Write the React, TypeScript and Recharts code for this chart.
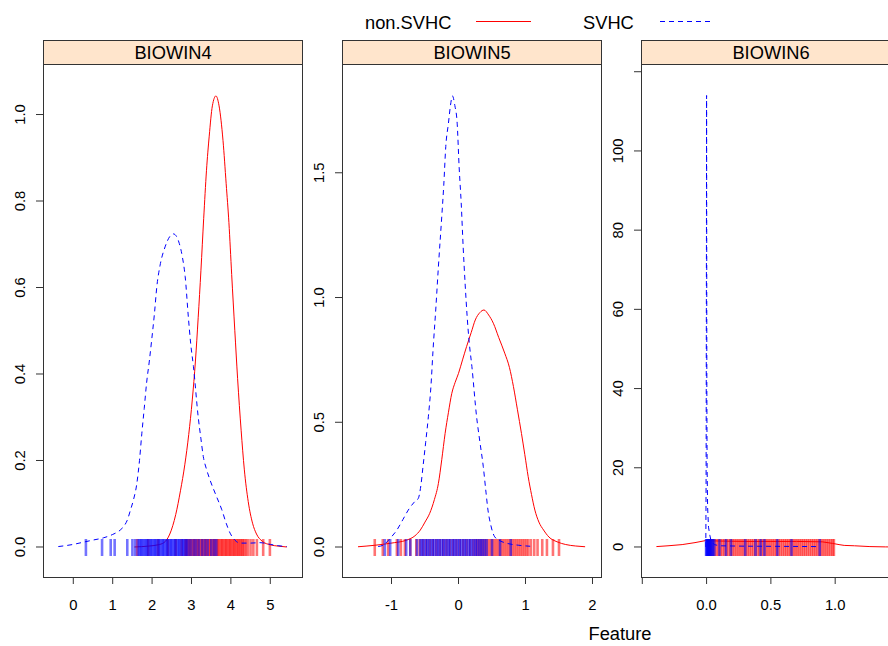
import React from 'react';
import { ComposedChart, Line, Scatter, XAxis, YAxis } from 'recharts';

const FONT = '"Liberation Sans", Arial, Helvetica, sans-serif';
const RED = '#ff0000';
const BLUE = '#0000ff';
const INK = '#333333';

type Pt = [number, number];

// ---------- BIOWIN4 ----------
const b4NonSvhc: Pt[] = [
  [1.55, 0], [1.9, 0.002], [2.15, 0.005], [2.3, 0.01], [2.45, 0.03], [2.6, 0.075],
  [2.72, 0.13], [2.83, 0.19], [2.93, 0.26], [3.02, 0.34], [3.1, 0.43], [3.17, 0.53],
  [3.24, 0.64], [3.31, 0.76], [3.38, 0.87], [3.45, 0.95], [3.53, 1.02], [3.62, 1.043],
  [3.7, 1.02], [3.8, 0.94], [3.88, 0.84], [3.95, 0.75], [4.02, 0.63], [4.1, 0.5],
  [4.17, 0.39], [4.26, 0.27], [4.34, 0.18], [4.44, 0.105], [4.55, 0.055], [4.65, 0.03],
  [4.8, 0.013], [5.0, 0.005], [5.2, 0.002], [5.42, 0],
];
const b4Svhc: Pt[] = [
  [-0.38, 0.001], [0.0, 0.006], [0.25, 0.011], [0.5, 0.016], [0.76, 0.021], [1.0, 0.029],
  [1.19, 0.039], [1.3, 0.05], [1.37, 0.062], [1.45, 0.085], [1.53, 0.11], [1.61, 0.145],
  [1.68, 0.2], [1.74, 0.263], [1.8, 0.32], [1.86, 0.379], [1.93, 0.43], [1.99, 0.479],
  [2.06, 0.54], [2.12, 0.602], [2.2, 0.65], [2.33, 0.694], [2.45, 0.718], [2.54, 0.724],
  [2.62, 0.718], [2.69, 0.702], [2.77, 0.67], [2.84, 0.625], [2.92, 0.532], [2.98, 0.47],
  [3.05, 0.417], [3.17, 0.301], [3.24, 0.25], [3.3, 0.209], [3.38, 0.18], [3.47, 0.155],
  [3.62, 0.12], [3.77, 0.086], [3.88, 0.055], [3.98, 0.032], [4.1, 0.016], [4.23, 0.009],
  [4.5, 0.009], [4.74, 0.01], [5.0, 0.006], [5.2, 0.003], [5.42, 0.001],
];
const b4RugNonSvhc = [
  1.62, 1.9, 2.15, 2.4, 2.6, 2.75, 2.84, 2.87, 2.9, 2.94, 2.97, 3.0, 3.04, 3.07, 3.1, 3.14,
  3.17, 3.2, 3.24, 3.27, 3.3, 3.34, 3.37, 3.4, 3.44, 3.47, 3.5, 3.54, 3.57, 3.6, 3.64, 3.67,
  3.7, 3.74, 3.77, 3.8, 3.84, 3.87, 3.9, 3.94, 3.97, 4.0, 4.04, 4.07, 4.1, 4.14, 4.17, 4.2,
  4.24, 4.27, 4.3, 4.34, 4.38, 4.43, 4.5, 4.57, 4.66, 4.82, 4.99,
];
const b4RugSvhc = [
  0.32, 0.73, 0.95, 1.05, 1.37, 1.5, 1.57, 1.64, 1.68, 1.71, 1.74, 1.78, 1.81, 1.85, 1.88,
  1.91, 1.95, 1.98, 2.01, 2.05, 2.08, 2.11, 2.15, 2.18, 2.21, 2.25, 2.28, 2.31, 2.35, 2.38,
  2.41, 2.45, 2.48, 2.51, 2.55, 2.58, 2.61, 2.65, 2.68, 2.71, 2.75, 2.78, 2.81, 2.85, 2.88,
  2.93, 2.99, 3.06, 3.12, 3.19, 3.27, 3.34, 3.41, 3.5, 3.57, 3.63,
];

// ---------- BIOWIN5 ----------
const b5NonSvhc: Pt[] = [
  [-1.5, 0.001], [-1.02, 0.015], [-0.77, 0.028], [-0.65, 0.045], [-0.57, 0.068], [-0.5, 0.1],
  [-0.43, 0.135], [-0.36, 0.19], [-0.3, 0.255], [-0.25, 0.35], [-0.2, 0.455], [-0.15, 0.54],
  [-0.1, 0.616], [-0.05, 0.66], [0.0, 0.696], [0.06, 0.75], [0.12, 0.803], [0.19, 0.86],
  [0.25, 0.91], [0.32, 0.94], [0.38, 0.95], [0.45, 0.93], [0.52, 0.897], [0.6, 0.84],
  [0.69, 0.777], [0.76, 0.72], [0.82, 0.643], [0.88, 0.55], [0.94, 0.455], [0.99, 0.37],
  [1.04, 0.282], [1.09, 0.21], [1.14, 0.148], [1.2, 0.1], [1.27, 0.068], [1.35, 0.04],
  [1.47, 0.021], [1.6, 0.01], [1.75, 0.004], [1.89, 0.001],
];
const b5Svhc: Pt[] = [
  [-1.2, 0.002], [-1.12, 0.008], [-1.02, 0.035], [-0.92, 0.068], [-0.83, 0.11], [-0.75, 0.148],
  [-0.66, 0.18], [-0.6, 0.195], [-0.56, 0.25], [-0.53, 0.322], [-0.49, 0.42], [-0.45, 0.522],
  [-0.41, 0.65], [-0.38, 0.79], [-0.34, 0.95], [-0.3, 1.124], [-0.25, 1.324], [-0.22, 1.45],
  [-0.19, 1.605], [-0.15, 1.699], [-0.12, 1.77], [-0.09, 1.808], [-0.055, 1.77], [-0.02, 1.699],
  [0.01, 1.52], [0.04, 1.38], [0.07, 1.2], [0.1, 1.05], [0.13, 0.92], [0.16, 0.82],
  [0.2, 0.723], [0.27, 0.522], [0.32, 0.42], [0.37, 0.322], [0.41, 0.22], [0.44, 0.148],
  [0.48, 0.09], [0.54, 0.041], [0.62, 0.025], [0.72, 0.015], [0.9, 0.007], [1.07, 0.003],
];
const b5RugNonSvhc = [
  -1.25, -1.13, -1.05, -0.92, -0.86, -0.8, -0.72, -0.63, -0.58, -0.53, -0.48, -0.43, -0.38,
  -0.33, -0.28, -0.23, -0.18, -0.13, -0.08, -0.03, 0.02, 0.07, 0.12, 0.17, 0.22, 0.26, 0.29,
  0.32, 0.35, 0.38, 0.41, 0.44, 0.47, 0.5, 0.53, 0.56, 0.59, 0.62, 0.65, 0.68, 0.71, 0.74,
  0.77, 0.8, 0.83, 0.86, 0.89, 0.92, 0.95, 0.98, 1.01, 1.04, 1.08, 1.13, 1.18, 1.25, 1.32,
  1.41, 1.5,
];
const b5RugSvhc = [
  -1.1, -1.02, -0.9, -0.78, -0.72, -0.62, -0.57, -0.545, -0.52, -0.49, -0.465, -0.44, -0.41,
  -0.385, -0.36, -0.33, -0.305, -0.28, -0.25, -0.225, -0.2, -0.17, -0.145, -0.12, -0.09,
  -0.065, -0.04, -0.01, 0.015, 0.04, 0.07, 0.095, 0.12, 0.15, 0.175, 0.2, 0.23, 0.255, 0.28,
  0.31, 0.335, 0.36, 0.39, 0.42, 0.5, 0.62, 0.78,
];

// ---------- BIOWIN6 ----------
const b6NonSvhc: Pt[] = [
  [-0.39, 0.1], [-0.3, 0.3], [-0.19, 0.6], [-0.09, 1.1], [-0.01, 1.6], [0.1, 1.5],
  [0.3, 1.4], [0.5, 1.4], [0.7, 1.4], [0.9, 1.3], [0.98, 0.9], [1.03, 0.6], [1.07, 0.4],
  [1.15, 0.3], [1.27, 0.1], [1.39, 0.02], [1.5, 0],
];
const b6Svhc: Pt[] = [
  [-0.006, 0], [-0.004, 15], [-0.003, 33], [-0.001, 80], [0, 114], [0.001, 80], [0.002, 40],
  [0.004, 20], [0.008, 10], [0.015, 5], [0.025, 3], [0.035, 1.5], [0.06, 0.6], [0.1, 0.3],
  [0.3, 0.2], [0.6, 0.15], [0.88, 0.1],
];
const b6RugNonSvhc = [
  0.02, 0.035, 0.05, 0.065, 0.08, 0.095, 0.11, 0.125, 0.14, 0.155, 0.17, 0.185, 0.2, 0.215,
  0.23, 0.245, 0.26, 0.275, 0.29, 0.305, 0.32, 0.335, 0.35, 0.365, 0.38, 0.395, 0.41, 0.425,
  0.44, 0.455, 0.47, 0.485, 0.5, 0.515, 0.53, 0.545, 0.56, 0.575, 0.59, 0.605, 0.62, 0.635,
  0.65, 0.665, 0.68, 0.695, 0.71, 0.725, 0.74, 0.755, 0.77, 0.785, 0.8, 0.815, 0.83, 0.845,
  0.86, 0.875, 0.89, 0.905, 0.92, 0.935, 0.95, 0.965, 0.98, 0.99,
];
const b6RugSvhc = [
  -0.004, 0.0, 0.004, 0.008, 0.012, 0.016, 0.02, 0.025, 0.03, 0.036, 0.043, 0.05, 0.06, 0.1,
  0.15, 0.19, 0.3, 0.38, 0.42, 0.45, 0.55, 0.66, 0.88,
];

// ---------- axes ----------
const b4XTicks = [0, 1, 2, 3, 4, 5];
const b4XLabels = ['0', '1', '2', '3', '4', '5'];
const b4YTicks = [0, 0.2, 0.4, 0.6, 0.8, 1.0];
const b4YLabels = ['0.0', '0.2', '0.4', '0.6', '0.8', '1.0'];
const b5XTicks = [-1, 0, 1, 2];
const b5XLabels = ['-1', '0', '1', '2'];
const b5YTicks = [0, 0.5, 1.0, 1.5];
const b5YLabels = ['0.0', '0.5', '1.0', '1.5'];
const b6XTicks = [-0.5, 0, 0.5, 1.0];
const b6XLabels = ['', '0.0', '0.5', '1.0'];
const b6YTicks = [0, 20, 40, 60, 80, 100, 120];
const b6YLabels = ['0', '20', '40', '60', '80', '100', ''];

const panelTitles = ['BIOWIN4', 'BIOWIN5', 'BIOWIN6'];
const legendLabels = ['non.SVHC', 'SVHC'];
const xAxisTitle = 'Feature';

const toXY = (pts: Pt[]) => pts.map(([x, y]) => ({ x, y }));
const toRug = (xs: number[]) => xs.map((x) => ({ x, y: 0 }));

const PLOT_W = 259;
const PLOT_H = 512;
const PLOT_TOP = 65;
const AXIS_W = 50;
const AXIS_H = 50;
const TICK_FS = 14.8;
const MAIN_FS = 18.3;

interface PanelSpec {
  title: string;
  left: number;
  xDomain: [number, number];
  yDomain: [number, number];
  xTicks: number[];
  xLabels: string[];
  yTicks: number[];
  yLabels: string[];
  red: Pt[];
  blue: Pt[];
  rugRed: number[];
  rugBlue: number[];
  curve: 'monotone' | 'linear';
}

const panels: PanelSpec[] = [
  {
    title: panelTitles[0], left: 43, xDomain: [-0.769, 5.805], yDomain: [-0.0694, 1.1145],
    xTicks: b4XTicks, xLabels: b4XLabels, yTicks: b4YTicks, yLabels: b4YLabels,
    red: b4NonSvhc, blue: b4Svhc, rugRed: b4RugNonSvhc, rugBlue: b4RugSvhc, curve: 'monotone',
  },
  {
    title: panelTitles[1], left: 342, xDomain: [-1.739, 2.127], yDomain: [-0.1202, 1.932],
    xTicks: b5XTicks, xLabels: b5XLabels, yTicks: b5YTicks, yLabels: b5YLabels,
    red: b5NonSvhc, blue: b5Svhc, rugRed: b5RugNonSvhc, rugBlue: b5RugSvhc, curve: 'monotone',
  },
  {
    title: panelTitles[2], left: 641, xDomain: [-0.51, 1.504], yDomain: [-7.58, 121.7],
    xTicks: b6XTicks, xLabels: b6XLabels, yTicks: b6YTicks, yLabels: b6YLabels,
    red: b6NonSvhc, blue: b6Svhc, rugRed: b6RugNonSvhc, rugBlue: b6RugSvhc, curve: 'linear',
  },
];

const labelFor = (ticks: number[], labels: string[], v: number) => {
  const i = ticks.findIndex((t) => Math.abs(t - v) < 1e-9);
  return i >= 0 ? labels[i] : '';
};

const rugShape = (color: string) => (props: any) => {
  const { cx, cy } = props;
  if (cx == null || cy == null) return <g />;
  return (
    <line x1={cx} x2={cx} y1={cy - 8} y2={cy + 9} stroke={color} strokeOpacity={0.55} strokeWidth={2.6} />
  );
};

function Panel({ p }: { p: PanelSpec }) {
  const XTick = (props: any) => {
    const { x, payload } = props;
    return (
      <text x={x} y={PLOT_H + 33} textAnchor="middle" fontSize={TICK_FS} fontFamily={FONT} fill="#000">
        {labelFor(p.xTicks, p.xLabels, payload.value)}
      </text>
    );
  };
  const YTick = (props: any) => {
    const { y, payload } = props;
    const bx = AXIS_W - 18.5;
    return (
      <text
        transform={`translate(${bx},${y}) rotate(-90)`}
        textAnchor="middle"
        fontSize={TICK_FS}
        fontFamily={FONT}
        fill="#000"
      >
        {labelFor(p.yTicks, p.yLabels, payload.value)}
      </text>
    );
  };
  return (
    <>
      <div
        style={{
          position: 'absolute', left: p.left, top: 40, width: PLOT_W + 1, height: 25,
          boxSizing: 'border-box', background: '#ffe5cc', border: `1px solid ${INK}`,
          fontFamily: FONT, fontSize: MAIN_FS, lineHeight: '23px', textAlign: 'center', color: '#000',
        }}
      >
        {p.title}
      </div>
      <div style={{ position: 'absolute', left: p.left - AXIS_W, top: PLOT_TOP }}>
        <ComposedChart
          width={AXIS_W + PLOT_W}
          height={PLOT_H + AXIS_H}
          margin={{ top: 0, right: 0, bottom: 0, left: 0 }}
        >
          <XAxis
            type="number"
            dataKey="x"
            domain={p.xDomain}
            allowDataOverflow
            ticks={p.xTicks}
            interval={0}
            height={AXIS_H}
            axisLine={false}
            tickSize={7}
            tickLine={{ stroke: INK, strokeWidth: 1 }}
            tick={XTick}
          />
          <YAxis
            type="number"
            dataKey="y"
            domain={p.yDomain}
            allowDataOverflow
            ticks={p.yTicks}
            interval={0}
            width={AXIS_W}
            axisLine={false}
            tickSize={7}
            tickLine={{ stroke: INK, strokeWidth: 1 }}
            tick={YTick}
          />
          <Scatter
            data={toRug(p.rugRed)}
            dataKey="y"
            shape={rugShape(RED)}
            isAnimationActive={false}
            zIndex={601}
          />
          <Line
            data={toXY(p.red)}
            dataKey="y"
            type={p.curve}
            stroke={RED}
            strokeWidth={1}
            dot={false}
            activeDot={false}
            isAnimationActive={false}
            zIndex={602}
          />
          <Scatter
            data={toRug(p.rugBlue)}
            dataKey="y"
            shape={rugShape(BLUE)}
            isAnimationActive={false}
            zIndex={603}
          />
          <Line
            data={toXY(p.blue)}
            dataKey="y"
            type={p.curve}
            stroke={BLUE}
            strokeWidth={1}
            strokeDasharray="5 4"
            dot={false}
            activeDot={false}
            isAnimationActive={false}
            zIndex={604}
          />
        </ComposedChart>
      </div>
      <div
        style={{
          position: 'absolute', left: p.left, top: 64, width: PLOT_W + 1, height: 514,
          boxSizing: 'border-box', border: `1px solid ${INK}`, pointerEvents: 'none',
        }}
      />
    </>
  );
}

export default function App() {
  return (
    <div
      style={{
        position: 'absolute', left: 0, top: 0, width: 888, height: 646, overflow: 'hidden',
        background: '#fff',
      }}
    >
      <svg width={888} height={646} style={{ position: 'absolute', left: 0, top: 0 }}>
        <text x={365} y={29} fontSize={MAIN_FS} fontFamily={FONT} fill="#000">{legendLabels[0]}</text>
        <line x1={476} x2={531} y1={21.5} y2={21.5} stroke={RED} strokeWidth={1} />
        <text x={583} y={29} fontSize={MAIN_FS} fontFamily={FONT} fill="#000">{legendLabels[1]}</text>
        <line x1={660} x2={713} y1={21.5} y2={21.5} stroke={BLUE} strokeWidth={1} strokeDasharray="5 4" />
        <text x={620} y={640} textAnchor="middle" fontSize={MAIN_FS} fontFamily={FONT} fill="#000">
          {xAxisTitle}
        </text>
      </svg>
      {panels.map((p) => (
        <Panel key={p.title} p={p} />
      ))}
    </div>
  );
}
